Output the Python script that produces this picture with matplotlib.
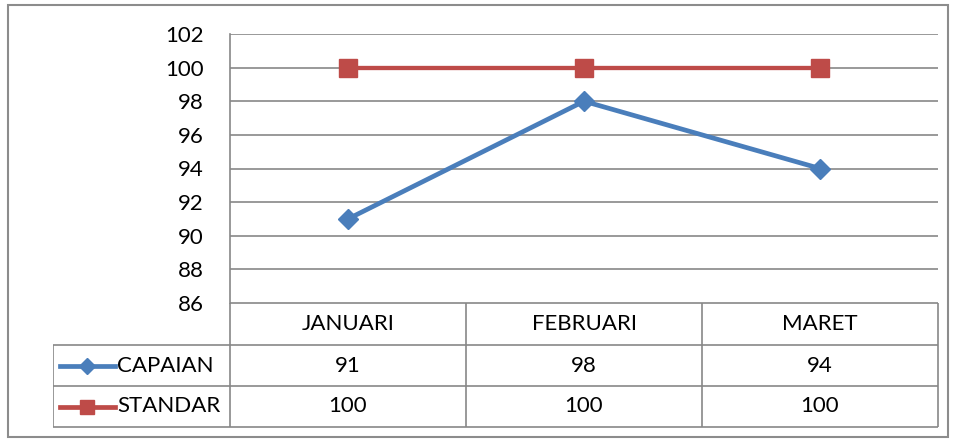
import matplotlib.pyplot as plt
from matplotlib.lines import Line2D
from matplotlib.patches import Rectangle

# data
months = ["JANUARI", "FEBRUARI", "MARET"]
capaian = [91, 98, 94]
standar = [100, 100, 100]
series_names = ["CAPAIAN", "STANDAR"]
yticks = [86, 88, 90, 92, 94, 96, 98, 100, 102]

BLUE = "#4A7EBB"
RED = "#BE4B48"
GRID = "#878787"
W, H = 958, 441
FS = 16

plt.rcParams["font.family"] = ["Lato", "DejaVu Sans"]

fig = plt.figure(figsize=(W / 100, H / 100), dpi=100)

def box(x0, y0, x1, y1):
    # pixel box (top-left origin) -> figure fraction rect
    return [x0 / W, 1 - y1 / H, (x1 - x0) / W, (y1 - y0) / H]

# outer chart border
fig.add_artist(Rectangle((8 / W, 1 - 437 / H), 940 / W, 432 / H, transform=fig.transFigure,
                         fill=False, edgecolor="#8c8c8c", linewidth=1.5))

# plot area
ax = fig.add_axes(box(230, 34, 938, 303))
x = range(len(months))
ax.plot(x, capaian, color=BLUE, linewidth=3.4, marker="D", markersize=10.5, zorder=3)
ax.plot(x, standar, color=RED, linewidth=3.1, marker="s", markersize=13.5, zorder=3)
ax.set_xlim(-0.5, len(months) - 0.5)
ax.set_ylim(86, 102)
ax.set_yticks(yticks)
ax.set_xticks([])
ax.yaxis.grid(True, color=GRID, linewidth=1.2)
ax.set_axisbelow(True)
for s in ["top", "right", "bottom"]:
    ax.spines[s].set_visible(False)
ax.spines["left"].set_color(GRID)
ax.spines["left"].set_linewidth(1.2)
ax.tick_params(axis="y", length=0, pad=19, labelsize=FS)

# data table
tab = fig.add_axes(box(53, 303, 940, 428))
tab.set_xlim(53, 940)
tab.set_ylim(428, 303)
tab.axis("off")
col_edges = [230, 466, 702, 938]
row_edges = [303, 345, 386, 427]
lk = dict(color=GRID, linewidth=1.2, solid_capstyle="butt")
for xe in col_edges:
    tab.plot([xe, xe], [row_edges[0], row_edges[-1]], **lk)
tab.plot([53, 53], [row_edges[1], row_edges[-1]], **lk)
tab.plot([230, 938], [row_edges[0]] * 2, **lk)
for ye in row_edges[1:]:
    tab.plot([53, 938], [ye, ye], **lk)

centers = [(col_edges[i] + col_edges[i + 1]) / 2 for i in range(len(months))]
for c, m in zip(centers, months):
    tab.text(c, (row_edges[0] + row_edges[1]) / 2, m, ha="center", va="center", fontsize=FS)

rows = [capaian, standar]
styles = [(BLUE, "D", 8.5), (RED, "s", 9.5)]
for r, (vals, name, (col, mk, ms)) in enumerate(zip(rows, series_names, styles)):
    yc = (row_edges[r + 1] + row_edges[r + 2]) / 2
    tab.add_line(Line2D([60, 115], [yc, yc], color=col, linewidth=3.4))
    tab.plot([87], [yc], marker=mk, color=col, markersize=ms)
    tab.text(117, yc, name, ha="left", va="center", fontsize=FS)
    for c, v in zip(centers, vals):
        tab.text(c, yc, str(v), ha="center", va="center", fontsize=FS)

fig.savefig("out.png", dpi=100)
